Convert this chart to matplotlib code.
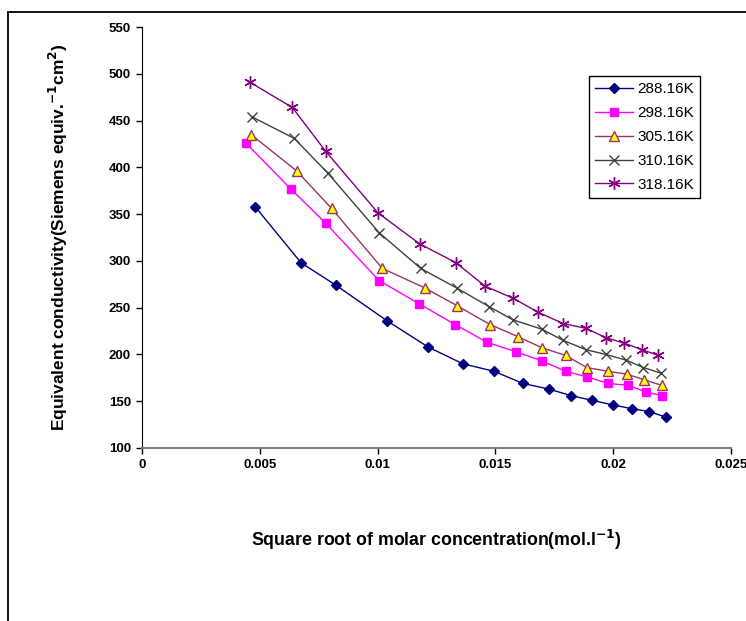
import matplotlib
matplotlib.use("Agg")
import matplotlib.pyplot as plt
from matplotlib.patches import Rectangle

plt.rcParams['font.family'] = ['Liberation Sans', 'DejaVu Sans']

# data
labels = ["288.16K", "298.16K", "305.16K", "310.16K", "318.16K"]

x_288 = [0.0048, 0.00675, 0.00823, 0.0104, 0.01214, 0.01362, 0.01494, 0.01617,
         0.01727, 0.01821, 0.0191, 0.01999, 0.0208, 0.02152, 0.02224]
y_288 = [358, 298, 274, 236, 208, 190, 182, 169, 163, 156, 151, 146, 142, 139, 133]

x_298 = [0.00441, 0.00631, 0.00781, 0.01006, 0.01177, 0.01329, 0.01464, 0.01587,
         0.01699, 0.01798, 0.0189, 0.01979, 0.02064, 0.02138, 0.02208]
y_298 = [426, 377, 340, 279, 254, 232, 213, 203, 193, 182, 176, 169, 167, 160, 156]

x_305 = [0.00463, 0.00657, 0.00805, 0.0102, 0.01201, 0.01338, 0.01477, 0.01596,
         0.01699, 0.01798, 0.01888, 0.01977, 0.02057, 0.02131, 0.02206]
y_305 = [435, 396, 356, 292, 271, 252, 232, 219, 207, 199, 186, 182, 179, 173, 167]

x_310 = [0.00466, 0.00646, 0.00788, 0.01007, 0.01183, 0.01336, 0.01474, 0.01575,
         0.01697, 0.01788, 0.01885, 0.01969, 0.02054, 0.02128, 0.02203]
y_310 = [454, 431, 394, 330, 292, 271, 251, 237, 227, 215, 205, 200, 194, 186, 180]

x_318 = [0.00458, 0.00638, 0.0078, 0.01003, 0.0118, 0.01333, 0.01456, 0.01576,
         0.01682, 0.01788, 0.01883, 0.01969, 0.02047, 0.02124, 0.02191]
y_318 = [491, 464, 417, 351, 318, 298, 273, 260, 245, 233, 228, 218, 212, 205, 199]

fig = plt.figure(figsize=(7.46, 6.21), dpi=100)
ax = fig.add_axes([142/746, 1 - 448/621, 589/746, 421/621])

# outer frame of the chart area (cut off on right and bottom)
fig.patches.append(Rectangle((8/746, -0.1), 1.2, 1.1 - 12/621, transform=fig.transFigure,
                             fill=False, edgecolor='black', linewidth=1.3))

ax.plot(x_288, y_288, color='#000080', lw=1, marker='D', ms=5.5,
        mfc='#000080', mec='#000080', label=labels[0])
ax.plot(x_298, y_298, color='#FF00FF', lw=1, marker='s', ms=6,
        mfc='#FF00FF', mec='#FF00FF', label=labels[1])
ax.plot(x_305, y_305, color='#993366', lw=1, marker='^', ms=7.5,
        mfc='#FFFF00', mec='#993366', mew=1, label=labels[2])
ax.plot(x_310, y_310, color='#404040', lw=1, marker='x', ms=7.5,
        mec='#404040', mew=1, label=labels[3])
ax.plot(x_318, y_318, color='#800080', lw=1, marker=(6, 2, 0), ms=9,
        mec='#800080', mew=1, label=labels[4])

ax.set_xlim(0, 0.025)
ax.set_ylim(100, 550)
ax.set_xticks([0, 0.005, 0.01, 0.015, 0.02, 0.025])
ax.set_xticklabels(['0', '0.005', '0.01', '0.015', '0.02', '0.025'])
ax.set_yticks(range(100, 551, 50))

for s in ['top', 'right']:
    ax.spines[s].set_visible(False)
ax.spines['left'].set_color('black')
ax.spines['bottom'].set_color('#808080')
ax.spines['bottom'].set_linewidth(1.5)
ax.tick_params(axis='both', direction='out', length=4, width=1, labelsize=9.5, pad=4)
for t in ax.get_xticklabels() + ax.get_yticklabels():
    t.set_fontweight('bold')

ax.set_xlabel('Square root of molar concentration(mol.l$^{\\mathbf{-1}}$)',
              fontsize=12.8, fontweight='bold')
ax.set_ylabel('Equivalent conductivity(Siemens equiv.$^{\\mathbf{-1}}$cm$^{\\mathbf{2}}$)',
              fontsize=12.5, fontweight='bold')
ax.xaxis.set_label_coords(0.5, -0.19)
ax.yaxis.set_label_coords(-0.122, 0.5)

leg = ax.legend(loc='upper left', bbox_to_anchor=(589/746, 1 - 76/621),
                bbox_transform=fig.transFigure, fancybox=False, framealpha=1,
                edgecolor='black', fontsize=11, handlelength=2.5, borderaxespad=0,
                borderpad=0.4, labelspacing=0.65, handletextpad=0.25)
leg.get_frame().set_linewidth(1)

plt.savefig('out.png', dpi=100)
